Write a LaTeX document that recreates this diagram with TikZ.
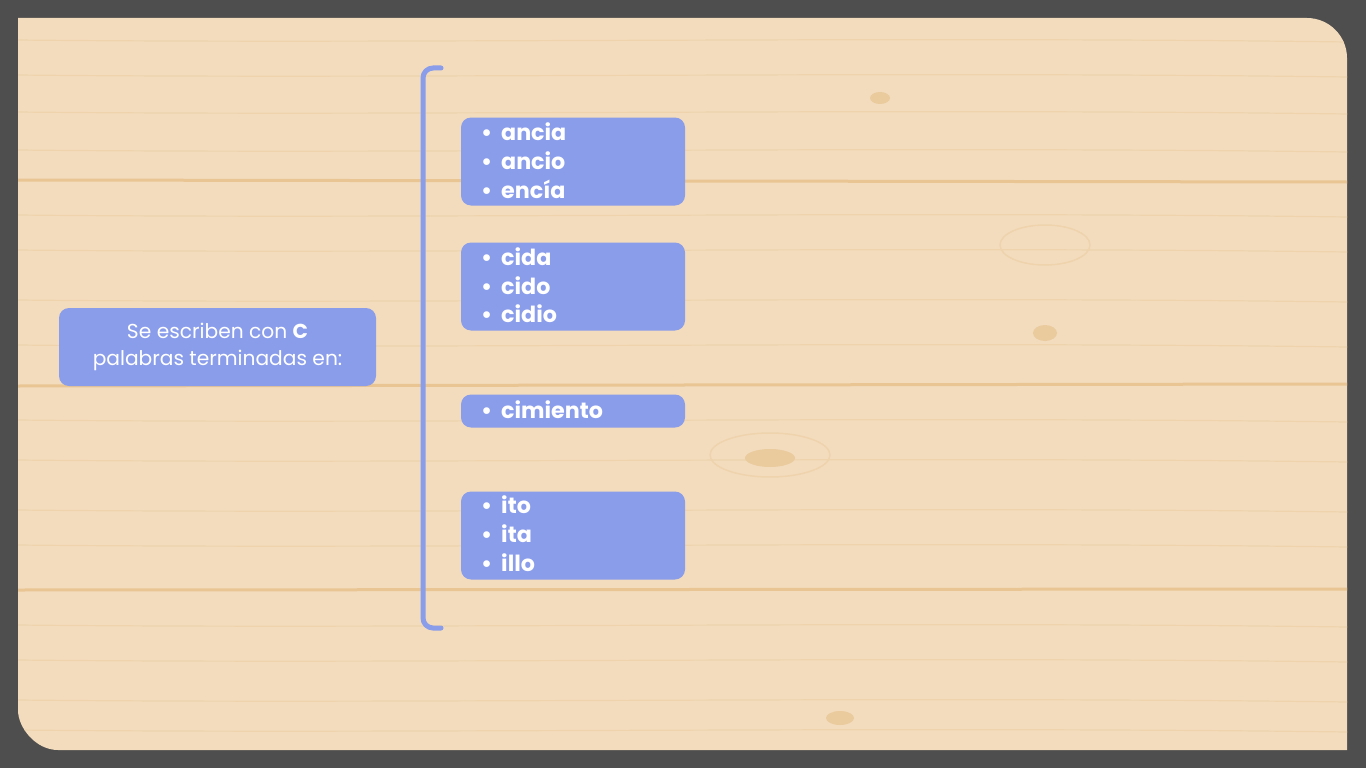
\documentclass[tikz,border=0pt]{standalone}
\usepackage{fontspec}
\setmainfont{Poppins}
\definecolor{frame}{HTML}{4E4E4E}
\definecolor{wood}{HTML}{F3DCBD}
\definecolor{seam}{HTML}{E8C593}
\definecolor{grain}{HTML}{EED3AD}
\definecolor{knot}{HTML}{EACB9E}
\definecolor{boxblue}{HTML}{8A9DEB}
\tikzset{
  bluebox/.style={fill=boxblue, draw=none, rounded corners=10pt, inner sep=0pt},
  item/.style={anchor=base west, inner sep=0pt, text=white, font=\fontsize{22.2}{26}\selectfont\bfseries},
  lefttext/.style={anchor=base, inner sep=0pt, text=white, font=\fontsize{20.2}{24}\selectfont},
  bracketline/.style={draw=boxblue, line width=5pt, line cap=round, rounded corners=10pt},
}
\begin{document}
\begin{tikzpicture}[x=1pt,y=-1pt]
\useasboundingbox (0,0) rectangle (1366,768);
\fill[frame] (0,0) rectangle (1366,768);
% wood panel
\fill[wood] (18,18) -- (1307,18) .. controls (1329,18) and (1347,36) .. (1347,58)
  -- (1347,750) -- (58,750) .. controls (36,750) and (18,728) .. (18,710) -- cycle;
% grain
\begin{scope}
\clip (18,18) -- (1307,18) .. controls (1329,18) and (1347,36) .. (1347,58)
  -- (1347,750) -- (58,750) .. controls (36,750) and (18,728) .. (18,710) -- cycle;
\foreach \y in {40,75,112,150,215,250,300,345,420,460,510,545,625,660,700,730}
  \draw[grain, line width=1.2pt] (18,\y) .. controls (400,\y+4) and (900,\y-4) .. (1347,\y+2);
\draw[seam, line width=3pt] (18,180) -- (1347,182);
\draw[seam, line width=3pt] (18,386) -- (1347,384);
\draw[seam, line width=3pt] (18,590) -- (1347,589);
\fill[knot] (880,98) ellipse (10pt and 6pt);
\draw[grain, line width=1.5pt] (1045,245) ellipse (45pt and 20pt);
\fill[knot] (1045,333) ellipse (12pt and 8pt);
\draw[grain, line width=1.5pt] (770,455) ellipse (60pt and 22pt);
\fill[knot] (770,458) ellipse (25pt and 9pt);
\fill[knot] (840,718) ellipse (14pt and 7pt);
\end{scope}
% left box
\node[bluebox, minimum width=317pt, minimum height=78pt] (lbox) at (217.5,347) {};
\node[lefttext] (l1) at (217.5,338) {Se escriben con \textbf{C}};
\node[lefttext] (l2) at (217.5,365) {palabras terminadas en:};
% bracket
\coordinate (bt) at (441,68);
\coordinate (bb) at (441,628);
\draw[bracketline] (bt) -- (423,68) -- (423,628) -- (bb);
% right boxes
\node[bluebox, minimum width=224pt, minimum height=88pt] (b1) at (573,161.5) {};
\node[bluebox, minimum width=224pt, minimum height=88pt] (b2) at (573,286.5) {};
\node[bluebox, minimum width=224pt, minimum height=33pt] (b3) at (573,411) {};
\node[bluebox, minimum width=224pt, minimum height=88pt] (b4) at (573,535.5) {};
% items
\foreach \n/\t/\y in {a1/ancia/140, a2/ancio/169, a3/encía/198,
                      c1/cida/265, c2/cido/294, c3/cidio/322,
                      m1/cimiento/418,
                      i1/ito/513, i2/ita/542, i3/illo/571}{
  \node[item] (\n b) at (481,\y) {•};
  \node[item] (\n) at (501,\y) {\t};
}
\end{tikzpicture}
\end{document}
